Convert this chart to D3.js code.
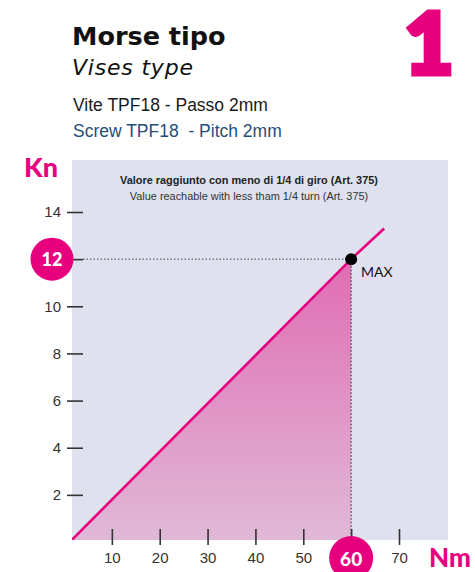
<!DOCTYPE html>
<html>
<head>
<meta charset="utf-8">
<script src="https://cdn.jsdelivr.net/npm/d3@7"></script>
<style>
  html, body { margin: 0; padding: 0; background: #ffffff; }
  svg { display: block; }
  .narrow { font-family: "Liberation Sans Narrow", "Arial Narrow", "Liberation Sans", Arial, sans-serif; }
  .geo { font-family: Lato, "Noto Sans", "DejaVu Sans", sans-serif; }
  .wide { font-family: "DejaVu Sans", Verdana, sans-serif; }
</style>
</head>
<body>
<svg id="chart" width="475" height="572"></svg>
<script>
// Torque (Nm) applied to the TPF18 screw vs. clamping force (kN)
const torqueNm = [1.7, 60, 66.9];
const forceKn  = [0.1, 12, 13.3];

// Highlighted maximum
const maxNm = [60];
const maxKn = [12];

// Axis ticks
const xTicks = [10, 20, 30, 40, 50, 60, 70];
const yTicks = [2, 4, 6, 8, 10, 12, 14];

const pink = "#e6007e";
const svg = d3.select("#chart");

// plot frame
const plot = { left: 72, right: 448, top: 160, bottom: 540 };

const x = d3.scaleLinear().domain([0, 70]).range([64, 399]);
const y = d3.scaleLinear().domain([0, 14]).range([542, 212]);

// ---------- headings ----------
svg.append("text").attr("class", "wide")
  .attr("x", 72).attr("y", 45)
  .attr("font-size", 25.5).attr("font-weight", "bold").attr("fill", "#111")
  .text("Morse tipo");
svg.append("text").attr("class", "wide")
  .attr("x", 72).attr("y", 75)
  .attr("font-size", 22).attr("font-style", "italic").attr("fill", "#111")
  .attr("letter-spacing", 0.8)
  .text("Vises type");
svg.append("text").attr("class", "narrow")
  .attr("x", 73).attr("y", 111)
  .attr("font-size", 17.5).attr("fill", "#1a1a1a")
  .text("Vite TPF18 - Passo 2mm");
svg.append("text").attr("class", "narrow")
  .attr("x", 73).attr("y", 136.5)
  .attr("font-size", 17.5).attr("fill", "#1f4e7a")
  .attr("xml:space", "preserve")
  .text("Screw TPF18  - Pitch 2mm");
svg.append("text").attr("class", "geo")
  .attr("x", 429).attr("y", 74).attr("text-anchor", "middle")
  .attr("font-size", 86).attr("font-weight", 900).attr("fill", pink)
  .attr("stroke", pink).attr("stroke-width", 5).attr("stroke-linejoin", "miter")
  .text("1");

// ---------- plot area ----------
svg.append("rect")
  .attr("x", plot.left).attr("y", plot.top)
  .attr("width", plot.right - plot.left).attr("height", plot.bottom - plot.top)
  .attr("fill", "#dfe2ee");

const defs = svg.append("defs");
defs.append("clipPath").attr("id", "plotClip")
  .append("rect")
  .attr("x", plot.left).attr("y", plot.top)
  .attr("width", plot.right - plot.left).attr("height", plot.bottom - plot.top);

const grad = defs.append("linearGradient").attr("id", "fillGrad")
  .attr("gradientUnits", "userSpaceOnUse")
  .attr("x1", 0).attr("x2", 0)
  .attr("y1", y(maxKn[0])).attr("y2", plot.bottom);
grad.append("stop").attr("offset", "0%").attr("stop-color", "#e06cb3");
grad.append("stop").attr("offset", "100%").attr("stop-color", "#e0b9d8");

const pts = torqueNm.map((t, i) => ({ t, f: forceKn[i] }));
const g = svg.append("g").attr("clip-path", "url(#plotClip)");

// shaded region up to the maximum torque
const areaPts = pts.filter(d => d.t <= maxNm[0]);
g.append("path")
  .datum(areaPts)
  .attr("fill", "url(#fillGrad)")
  .attr("d", d3.area().x(d => x(d.t)).y0(plot.bottom).y1(d => y(d.f)));

// guide lines to the maximum
const mx = x(maxNm[0]), my = y(maxKn[0]);
svg.append("line")
  .attr("x1", 83).attr("x2", mx).attr("y1", my).attr("y2", my)
  .attr("stroke", "#444").attr("stroke-width", 1).attr("stroke-dasharray", "1.5,2");
svg.append("line")
  .attr("x1", mx).attr("x2", mx).attr("y1", my).attr("y2", plot.bottom)
  .attr("stroke", "#444").attr("stroke-width", 1.2).attr("stroke-dasharray", "1.5,2");

// force line
g.append("path")
  .datum(pts)
  .attr("fill", "none").attr("stroke", pink).attr("stroke-width", 2.6)
  .attr("d", d3.line().x(d => x(d.t)).y(d => y(d.f)));

// in-plot captions
const cx = 249;
svg.append("text").attr("class", "narrow")
  .attr("x", cx).attr("y", 184).attr("text-anchor", "middle")
  .attr("font-size", 10.9).attr("font-weight", "bold").attr("fill", "#222")
  .text("Valore raggiunto con meno di 1/4 di giro (Art. 375)");
svg.append("text").attr("class", "narrow")
  .attr("x", cx).attr("y", 200).attr("text-anchor", "middle")
  .attr("font-size", 10.9).attr("fill", "#333")
  .text("Value reachable with less tham 1/4 turn (Art. 375)");

// ---------- axes ----------
const yAxis = d3.axisLeft(y).tickValues(yTicks).tickSize(16).tickPadding(6)
  .tickFormat(d => maxKn.includes(d) ? "" : d);
const yG = svg.append("g").attr("class", "narrow").attr("transform", "translate(83,0)").call(yAxis);

const xAxis = d3.axisBottom(x).tickValues(xTicks).tickSize(16).tickPadding(7)
  .tickFormat(d => maxNm.includes(d) ? "" : d);
const xG = svg.append("g").attr("class", "narrow").attr("transform", "translate(0,529)").call(xAxis);

[yG, xG].forEach(a => {
  a.select(".domain").remove();
  a.selectAll(".tick line").attr("stroke", "#333").attr("stroke-width", 1.6);
  a.selectAll(".tick text").attr("fill", "#333").attr("font-size", 15)
    .attr("font-family", null);
});

// ---------- maximum markers ----------
svg.append("circle").attr("cx", mx).attr("cy", my).attr("r", 6).attr("fill", "#000");
svg.append("text").attr("class", "geo")
  .attr("x", 361).attr("y", 277)
  .attr("font-size", 14).attr("fill", "#111")
  .text("MAX");

svg.append("circle").attr("cx", 52).attr("cy", my).attr("r", 21.5).attr("fill", pink);
svg.append("text").attr("class", "geo")
  .attr("x", 52).attr("y", my).attr("dy", "0.36em").attr("text-anchor", "middle")
  .attr("font-size", 18).attr("font-weight", 900).attr("fill", "#fff")
  .text(maxKn[0]);

svg.append("circle").attr("cx", mx).attr("cy", 558).attr("r", 22).attr("fill", pink);
svg.append("text").attr("class", "geo")
  .attr("x", mx).attr("y", 558).attr("dy", "0.42em").attr("text-anchor", "middle")
  .attr("font-size", 19).attr("font-weight", 900).attr("fill", "#fff")
  .text(maxNm[0]);

// axis unit labels
svg.append("text").attr("class", "geo")
  .attr("x", 24).attr("y", 177)
  .attr("font-size", 27).attr("font-weight", 900).attr("fill", pink)
  .text("Kn");
svg.append("text").attr("class", "geo")
  .attr("x", 429).attr("y", 567)
  .attr("font-size", 26).attr("font-weight", 900).attr("fill", pink)
  .text("Nm");
</script>
</body>
</html>
